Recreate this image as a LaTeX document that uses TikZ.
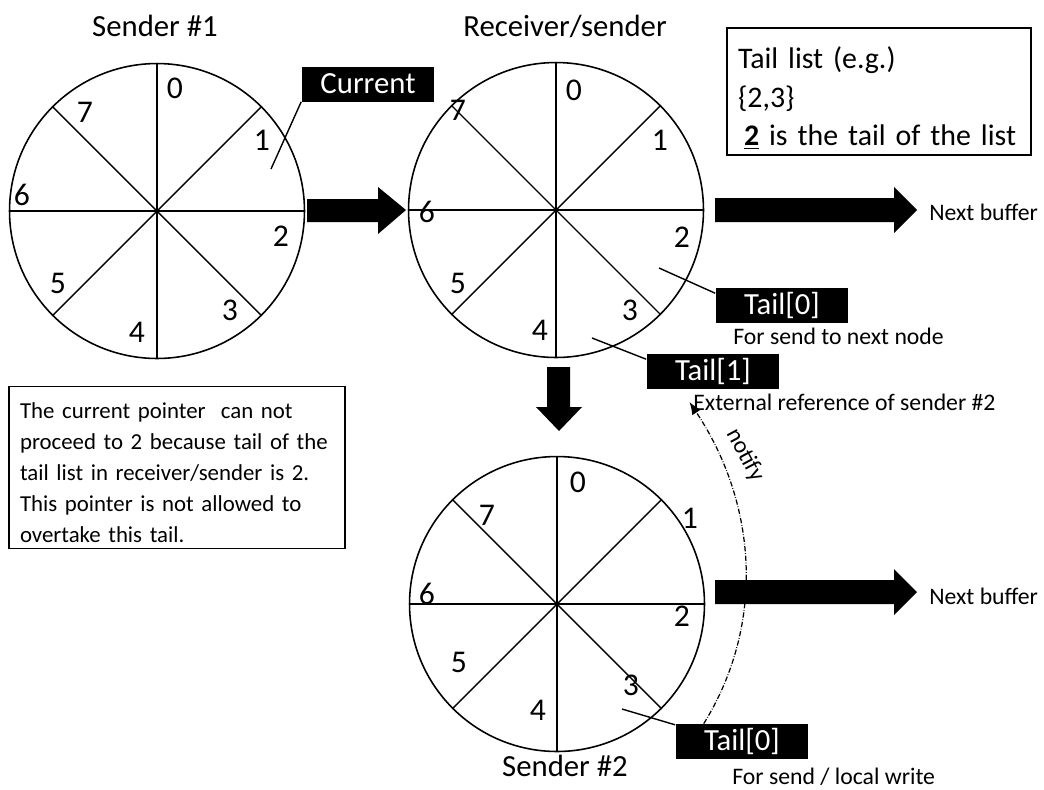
\documentclass[tikz,border=0pt]{standalone}
\usepackage{fontspec}
\setmainfont{Carlito}
\usetikzlibrary{arrows.meta,positioning}

\begin{document}
\begin{tikzpicture}[x=0.02cm,y=-0.02cm,
ring/.style={draw,circle,line width=0.9pt,minimum size=5.9cm,inner sep=0pt},
spoke/.style={line width=0.8pt},
num/.style={font=\fontsize{18}{22}\selectfont,inner sep=0pt},
title/.style={font=\fontsize{17.5}{21}\selectfont,inner sep=0pt},
tag/.style={fill=black,text=white,font=\fontsize{17.5}{21}\selectfont,minimum width=2.66cm,minimum height=0.7cm,inner sep=0pt},
small/.style={font=\fontsize{13.5}{16}\selectfont,inner sep=0pt,anchor=west},
fat/.style={fill=black},
ptr/.style={line width=0.8pt},
notifyline/.style={densely dashdotted,line width=0.7pt,-{Latex[length=2.5mm,width=2mm]}}]
\useasboundingbox (0,0) rectangle (1044,789);
% the three ring buffers
\node[ring] (s1) at (157,211) {};
\node[ring] (rs) at (556,210) {};
\node[ring] (s2) at (557,604) {};
\foreach \r in {s1,rs,s2}{
  \draw[spoke] (\r.north)--(\r.south);
  \draw[spoke] (\r.west)--(\r.east);
  \draw[spoke] (\r.north east)--(\r.south west);
  \draw[spoke] (\r.north west)--(\r.south east);
}
\foreach \n/\dx/\dy in {0/18/-123,1/105/-71,2/124/25,3/73/99,4/-20/121,5/-99/72,6/-135/-16,7/-72/-99}
  \node[num] (s1-\n) at ([shift={(\dx,\dy)}]s1.center) {\n};
\foreach \n/\dx/\dy in {0/18/-120,1/104/-70,2/126/27,3/74/100,4/-16/120,5/-98/73,6/-129/2,7/-98/-100}
  \node[num] (rs-\n) at ([shift={(\dx,\dy)}]rs.center) {\n};
\foreach \n/\dx/\dy in {0/21/-122,1/133/-86,2/125/12,3/74/81,4/-19/106,5/-98/58,6/-130/-10,7/-70/-89}
  \node[num] (s2-\n) at ([shift={(\dx,\dy)}]s2.center) {\n};
\node[title] (t1) at (155,26) {Sender \#1};
\node[title] (t2) at (565,26) {Receiver/sender};
\node[title] (t3) at (565,766) {Sender \#2};
% block arrows
\fill[fat] (307,199)--(378,199)--(378,187)--(406,210)--(378,234)--(378,222)--(307,222)--cycle;
\fill[fat] (715,198)--(894,198)--(894,187)--(917,210)--(894,233)--(894,222)--(715,222)--cycle;
\fill[fat] (715,580)--(894,580)--(894,569)--(917,592)--(894,615)--(894,604)--(715,604)--cycle;
\fill[fat] (547,367)--(570,367)--(570,407)--(582,407)--(559,431)--(536,407)--(547,407)--cycle;
\node[small] (nb1) at (929,212) {Next buffer};
\node[small] (nb2) at (929,596) {Next buffer};
% pointers
\node[tag] (cur) at (368,84) {Current};
\coordinate (c1) at (271,169);
\draw[ptr] (cur.south west)--(c1);
\node[tag] (tl0) at (782,305) {Tail[0]};
\coordinate (c2) at (659,268);
\draw[ptr] (c2)--(tl0.170);
\node[small] (d0) at (733,336) {For send to next node};
\node[tag] (tl1) at (713,371) {Tail[1]};
\coordinate (c3) at (592,338);
\draw[ptr] (c3)--(tl1.170);
\node[small] (ext) at (693,402) {External reference of sender \#2};
\node[tag] (tl2) at (742,741.5) {Tail[0]};
\coordinate (c4) at (622,709);
\draw[ptr] (c4)--(tl2.166);
\node[small] (d2) at (732,777) {For send / local write};
\draw[notifyline] (tl2.155) .. controls (765,625) and (758,505) .. ([xshift=-2pt]ext.west);
\node[small,anchor=center,rotate=-62] (nt) at (745,455) {notify};
% notes
\node[draw,line width=0.8pt,text width=5.64cm,inner xsep=0.22cm,minimum height=2.46cm,align=left,font=\fontsize{17}{21.9}\selectfont] (tlist) at (879,91.5) {\mbox{\rule{0pt}{20pt}Tail list (e.g.)}\\\{2,3\}\\\mbox{\hspace{0.2em}\underline{\textbf{2}} is the tail of the list}};
\node[draw,line width=0.8pt,text width=6.28cm,inner xsep=0.22cm,minimum height=3.18cm,align=left,font=\fontsize{13}{17.6}\selectfont] (note) at (177,467.5) {\mbox{\rule{0pt}{15pt}The current pointer~ can not}\\\mbox{proceed to 2 because tail of the}\\\mbox{tail list in receiver/sender is 2.}\\\mbox{This pointer is not allowed to}\\\mbox{overtake this tail.}};
\end{tikzpicture}
\end{document}
